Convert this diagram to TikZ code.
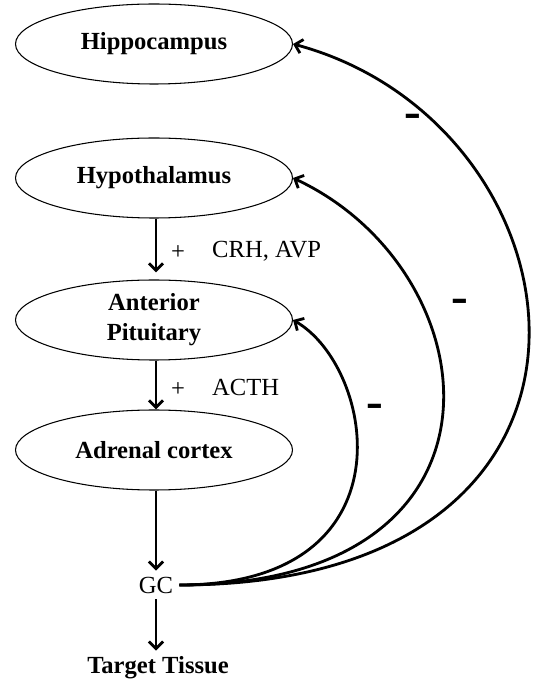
\documentclass[tikz,border=0pt]{standalone}
\usepackage{fontspec}
\setmainfont{Liberation Serif}
\newfontfamily\dashfont{DejaVu Sans}
\usepackage{tikz}
\usetikzlibrary{shapes.geometric,arrows.meta}

\begin{document}
\begin{tikzpicture}[font=\fontsize{14}{17}\selectfont,
    organ/.style={draw,ellipse,line width=0.6pt,inner sep=0pt,minimum width=5.54cm,minimum height=1.6cm,font=\fontsize{14}{17}\selectfont\bfseries,align=center},
    down/.style={line width=1.6pt,-{Straight Barb[length=4pt,width=8pt]}},
    feedback/.style={line width=1.6pt,-{Straight Barb[length=4pt,width=8pt]}},
    minus/.style={font=\fontsize{19}{20}\dashfont\bfseries}]

    \useasboundingbox (0,0) rectangle (10.68,13.62);

    \node[organ] (hippo) at (3.08,12.74) {Hippocampus};
    \node[organ] (hypo) at (3.08,10.06) {Hypothalamus};
    \node[organ] (pit) at (3.08,7.22) {Anterior\\Pituitary};
    \node[organ] (adr) at (3.08,4.62) {Adrenal cortex};
    \node (gc) at (3.12,1.92) {GC};
    \node[font=\fontsize{14}{17}\selectfont\bfseries] (target) at (3.16,0.26) {Target Tissue};

    \node (plus1) at (3.56,8.56) {+};
    \node[anchor=west] (crh) at (4.12,8.6) {CRH, AVP};
    \node (plus2) at (3.56,5.82) {+};
    \node[anchor=west] (acth) at (4.12,5.88) {ACTH};

    \node[minus] (m1) at (8.26,11.22) {–};
    \node[minus] (m2) at (9.2,7.52) {–};
    \node[minus] (m3) at (7.5,5.42) {–};

    \draw[down,shorten >=4pt] (hypo.south -| gc) -- (pit.north -| gc);
    \draw[down] (pit.south -| gc) -- (adr.north -| gc);
    \draw[down] (adr.south -| gc) -- (gc);
    \draw[down] (gc) -- (gc |- target.north);

    % negative feedback from GC
    \draw[feedback] (gc.east) .. controls +(4.7,0) and +(-30:1.9) .. (pit.east);
    \draw[feedback] (gc.east) .. controls +(7,0) and +(-25:4.4) .. (hypo.east);
    \draw[feedback] (gc.east) .. controls +(9.6,0) and +(-15:6.2) .. (hippo.east);

\end{tikzpicture}
\end{document}
